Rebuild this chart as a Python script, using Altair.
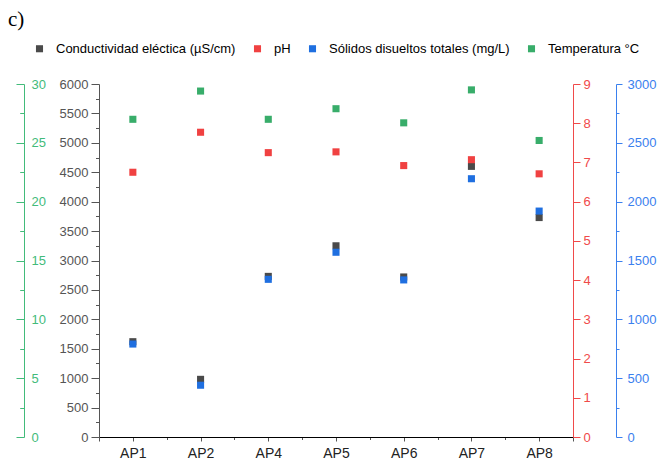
import altair as alt
import pandas as pd

# Sampling sites along the x axis
sitios = ["AP1", "AP2", "AP4", "AP5", "AP6", "AP7", "AP8"]

# Measured parameters per site
conductividad = [1620, 980, 2730, 3250, 2720, 4600, 3730]      # µS/cm
ph = [6.75, 7.77, 7.25, 7.27, 6.92, 7.07, 6.71]
solidos = [790, 440, 1340, 1570, 1335, 2195, 1920]              # mg/L
temperatura = [27.0, 29.4, 27.0, 27.9, 26.7, 29.5, 25.2]        # °C

series = [
    "Conductividad eléctica (µS/cm)",
    "pH",
    "Sólidos disueltos totales (mg/L)",
    "Temperatura °C",
]
colores = ["#4a4a4a", "#f04141", "#1f6fe0", "#38ad6a"]

filas = []
for nombre, valores in zip(series, [conductividad, ph, solidos, temperatura]):
    for i, (sitio, v) in enumerate(zip(sitios, valores)):
        filas.append({"idx": i, "sitio": sitio, "serie": nombre, "valor": v})
df = pd.DataFrame(filas)

FONT = "Liberation Sans"

etiquetas_x = "[" + ",".join(f"'{s}'" for s in sitios) + "]"
eje_x = alt.X(
    "idx:Q",
    scale=alt.Scale(domain=[-0.5, len(sitios) - 0.5], nice=False, zero=False),
    axis=alt.Axis(
        title=None,
        values=[k / 2 for k in range(-1, 2 * len(sitios))],
        labelExpr=f"datum.value % 1 === 0 ? {etiquetas_x}[datum.value] : ''",
        grid=False,
        domainColor="#000000",
        tickColor="#555555",
        tickSize={"condition": {"test": "datum.value % 1 === 0 || datum.value < 0 || datum.value > 6", "value": 4}, "value": 2.5},
        labelColor="#222222",
        labelFontSize=14,
        labelPadding=5,
        labelFont=FONT,
    ),
)

leyenda = alt.Legend(
    title=None,
    orient="none",
    direction="horizontal",
    legendX=-66,
    legendY=-42,
    symbolType="square",
    symbolSize=50,
    symbolStrokeWidth=0,
    labelFontSize=13,
    labelFont=FONT,
    labelColor="#000000",
    labelLimit=400,
    labelOffset=10,
    columnPadding=15,
    padding=0,
)

color = alt.Color(
    "serie:N",
    scale=alt.Scale(domain=series, range=colores),
    legend=leyenda,
)


def capa(nombre, tope, paso, paso_etiqueta, color_eje, orient, offset, tick_mayor, tick_menor,
         label_align, label_padding):
    valores = []
    k = 0
    while k * paso <= tope + 1e-9:
        valores.append(round(k * paso, 4))
        k += 1
    eje = alt.Axis(
        title=None,
        orient=orient,
        offset=offset,
        values=valores,
        format="d",
        labelExpr=f"abs(datum.value / {paso_etiqueta} - round(datum.value / {paso_etiqueta})) < 1e-6 ? datum.label : ''",
        grid=False,
        domainColor=color_eje,
        tickColor=color_eje,
        labelColor=color_eje,
        tickSize={
            "condition": {
                "test": f"abs(datum.value / {paso_etiqueta} - round(datum.value / {paso_etiqueta})) < 1e-6",
                "value": tick_mayor,
            },
            "value": tick_menor,
        },
        labelAlign=label_align,
        labelPadding=label_padding,
        labelFontSize=13,
        labelFont=FONT,
    )
    return (
        alt.Chart(df)
        .transform_filter(alt.datum.serie == nombre)
        .mark_point(shape="square", filled=True, size=50, opacity=1, strokeWidth=0)
        .encode(
            x=eje_x,
            y=alt.Y("valor:Q", scale=alt.Scale(domain=[0, tope], nice=False, zero=True), axis=eje),
            color=color,
            tooltip=["sitio:N", "serie:N", "valor:Q"],
        )
    )


c_cond = capa(series[0], 6000, 250, 500, "#555555", "left", 0, 8, 3.5, "right", 3)
c_ph = capa(series[1], 9, 0.5, 1, "#f04a4a", "right", 0, 7, 3, "left", 3)
c_sol = capa(series[2], 3000, 250, 500, "#3a80ee", "right", 43, 6, 3, "left", 5)
c_temp = capa(series[3], 30, 2.5, 5, "#42bb7a", "left", 75, 8, 4.3, "left", -15)

chart = (
    alt.layer(c_cond, c_ph, c_sol, c_temp)
    .resolve_scale(y="independent")
    .properties(
        width=474,
        height=353,
        padding={"left": 99, "top": 84, "right": 91, "bottom": 27},
        autosize=alt.AutoSizeParams(type="none"),
        title=alt.TitleParams(
            "c)",
            anchor="start",
            frame="group",
            font="Liberation Serif",
            fontSize=21,
            fontWeight="normal",
            color="#000000",
            baseline="bottom",
            dx=-91,
            dy=13,
        ),
    )
    .configure_view(stroke=None)
)

chart.save("out.html", embed_options={"renderer": "svg", "actions": False})
